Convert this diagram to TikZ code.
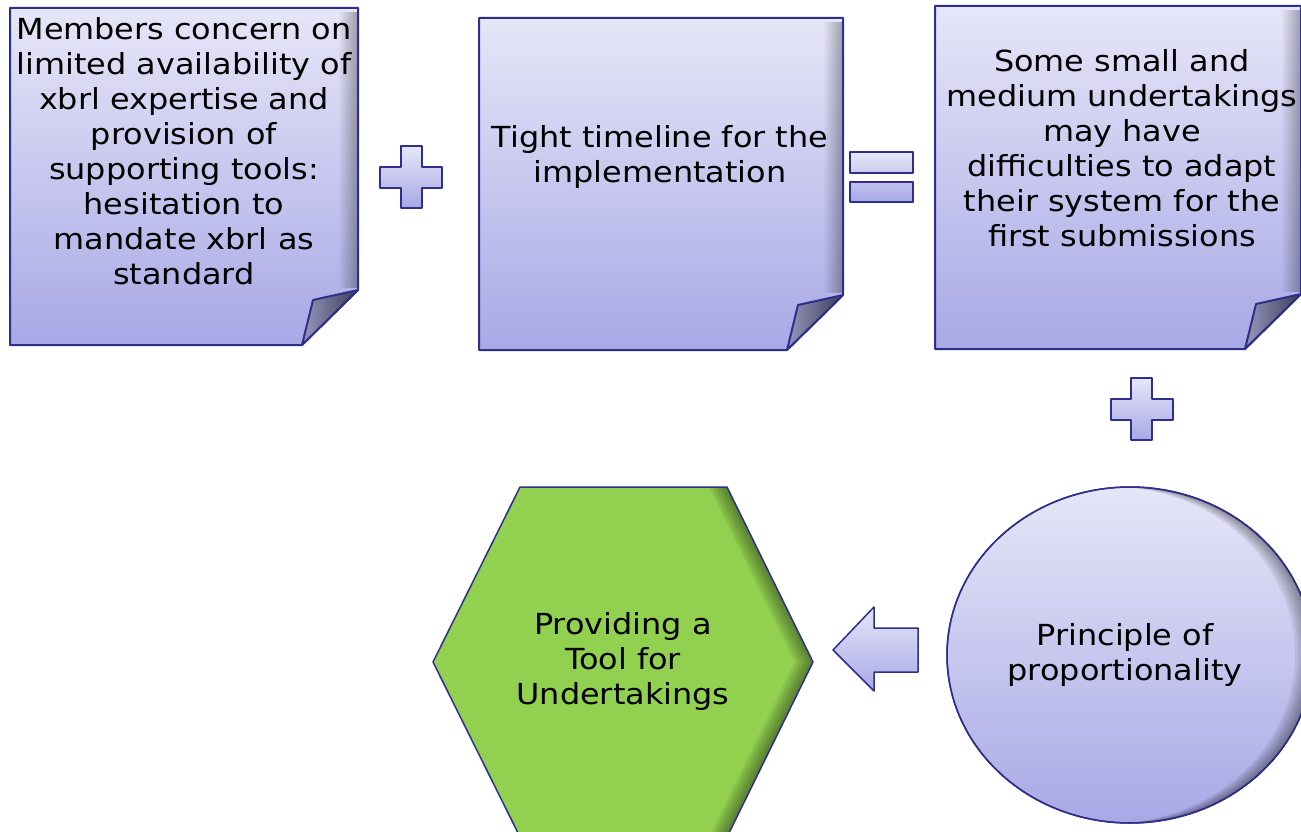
\documentclass[tikz,border=0pt]{standalone}
\usepackage{fontspec}
\setmainfont[FakeStretch=1.1]{DejaVu Sans}
\usetikzlibrary{calc,shapes.geometric,fadings}
\definecolor{lavtop}{RGB}{230,230,248}
\definecolor{lavbot}{RGB}{168,168,230}
\definecolor{edgeblue}{RGB}{46,46,140}
\definecolor{leafgreen}{RGB}{146,208,80}
\definecolor{foldgray}{RGB}{60,60,90}
\tikzset{
  lavfill/.style={top color=lavtop, bottom color=lavbot, draw=edgeblue, line width=2pt, line join=round},
  foldfill/.style={left color=lavbot!60!gray, right color=foldgray, draw=edgeblue, line width=2pt, line join=round},
  notetext/.style={align=center, font=\fontsize{29}{35}\selectfont, text=black, inner sep=0pt},
  rimshade/.style={fill=black, opacity=0.07, even odd rule},
}
% sticky note: name, x1, y1, x2, y2
\newcommand{\mknote}[5]{\draw[lavfill] (#2,#3) -- (#4,#3) -- (#4,#5-55) -- (#4-56,#5) -- (#2,#5) -- cycle;
  \fill[black, opacity=0.3, path fading=west] (#4-20,#3+4) rectangle (#4-1,#5-57);
  \draw[foldfill] (#4,#5-55) -- (#4-45,#5-45) -- (#4-56,#5) -- cycle;
  \coordinate (#1) at ($(#2,#3)!0.5!(#4,#5)$);}
% plus sign: x, y of its centre
\newcommand{\mkplus}[2]{\draw[lavfill] (#1-10.5,#2-31) -- (#1+10.5,#2-31) -- (#1+10.5,#2-10.5) -- (#1+31,#2-10.5) -- (#1+31,#2+10.5) -- (#1+10.5,#2+10.5) -- (#1+10.5,#2+31) -- (#1-10.5,#2+31) -- (#1-10.5,#2+10.5) -- (#1-31,#2+10.5) -- (#1-31,#2-10.5) -- (#1-10.5,#2-10.5) -- cycle;}
% hexagon outline shifted by #1
\newcommand{\hexpath}[1]{(433+#1,662) -- (520+#1,487) -- (727+#1,487) -- (813+#1,662) -- (727+#1,837) -- (520+#1,837) -- cycle}

\begin{document}
\begin{tikzpicture}[x=1pt, y=-1pt]
    \useasboundingbox (0,0) rectangle (1301,832);
    \clip (0,0) rectangle (1301,832);

    % top row of notes
    \mknote{concern}{10}{8}{358}{345}
    \mknote{timeline}{479}{18}{843}{350}
    \mknote{smes}{935}{6}{1301}{349}

    \node[notetext] (concerntxt) at (184,151) {Members concern on\\limited availability of\\xbrl expertise and\\provision of\\supporting tools:\\hesitation to\\mandate xbrl as\\standard};
    \node[notetext] (timelinetxt) at (660,157) {Tight timeline for the\\implementation};
    \node[notetext] (smestxt) at (1122,148) {Some small and\\medium undertakings\\may have\\difficulties to adapt\\their system for the\\first submissions};

    % operators
    \mkplus{411}{177}
    \mkplus{1141.5}{409}
    \draw[lavfill] (850,152) rectangle (913,173) (850,182) rectangle (913,202);

    % bottom row
    \node[ellipse, lavfill, line width=1.5pt, minimum width=366pt, minimum height=336pt] (prop) at (1130,655) {};
    \begin{scope}
      \clip (1130,655) ellipse [x radius=183, y radius=168];
      \foreach \d in {3,6,...,18}
        \fill[rimshade] (1130,655) ellipse [x radius=183, y radius=168] (1130-\d,655) ellipse [x radius=183, y radius=168];
    \end{scope}
    \draw[edgeblue, line width=1.5pt] (1130,655) ellipse [x radius=183, y radius=168];
    \node[notetext] (proptxt) at (1125,655) {Principle of\\proportionality};

    \fill[leafgreen] \hexpath{0};
    \begin{scope}
      \clip \hexpath{0};
      \foreach \d in {3,6,...,18}
        \fill[rimshade] \hexpath{0} \hexpath{-\d};
    \end{scope}
    \draw[edgeblue, line width=1.5pt, line join=round] \hexpath{0};
    \node[notetext] (tool) at (623,661) {Providing a\\Tool for\\Undertakings};

    \draw[lavfill, line width=1.5pt] (833,650) -- (874,607) -- (874,628) -- (918,628) -- (918,672) -- (874,672) -- (874,691) -- cycle;
\end{tikzpicture}
\end{document}
